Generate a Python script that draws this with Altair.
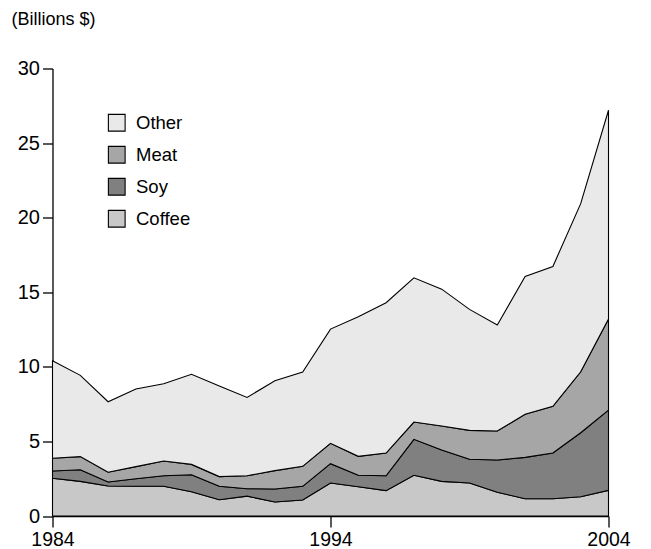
import altair as alt
import pandas as pd

years = list(range(1984, 2005))
coffee = [2.53, 2.32, 2.01, 1.99, 1.99, 1.63, 1.09, 1.33, 0.94, 1.07, 2.21,
          1.96, 1.70, 2.73, 2.32, 2.21, 1.59, 1.16, 1.16, 1.29, 1.72]
soy = [0.49, 0.78, 0.27, 0.51, 0.71, 1.14, 0.90, 0.50, 0.87, 0.92, 1.30,
       0.77, 1.00, 2.41, 2.10, 1.59, 2.16, 2.77, 3.06, 4.29, 5.38]
meat = [0.85, 0.88, 0.65, 0.81, 0.99, 0.69, 0.65, 0.87, 1.23, 1.34, 1.36,
        1.27, 1.52, 1.16, 1.61, 1.94, 1.95, 2.89, 3.13, 4.09, 6.10]
other = [6.54, 5.45, 4.73, 5.20, 5.18, 6.04, 6.07, 5.25, 6.03, 6.32, 7.66,
         9.36, 10.08, 9.67, 9.18, 8.11, 7.10, 9.24, 9.38, 11.27, 14.00]

legend_names = ["Other", "Meat", "Soy", "Coffee"]
legend_colors = ["#e9e9e9", "#a6a6a6", "#808080", "#c8c8c8"]
stack_rank = {"Coffee": 0, "Soy": 1, "Meat": 2, "Other": 3}
x_ticks = [1984, 1994, 2004]
y_ticks = [0, 5, 10, 15, 20, 25, 30]

rows = []
for name, vals in [("Coffee", coffee), ("Soy", soy), ("Meat", meat), ("Other", other)]:
    for yr, v in zip(years, vals):
        rows.append({"year": yr, "series": name, "value": v, "rank": stack_rank[name]})
df = pd.DataFrame(rows)

FONT = "Liberation Sans"

chart = alt.Chart(df).mark_area(
    stroke="black", strokeWidth=1.1, opacity=1, fillOpacity=1
).encode(
    x=alt.X("year:Q",
            scale=alt.Scale(domain=[1984, 2004], nice=False, zero=False),
            axis=alt.Axis(values=x_ticks, format="d", title=None, grid=False,
                          domainColor="black", domainWidth=1.3, tickColor="black",
                          tickWidth=1.3, tickSize=11, labelPadding=3,
                          labelFont=FONT, labelFontSize=19.5, labelColor="black",
                          labelFlush=False)),
    y=alt.Y("value:Q", stack="zero",
            scale=alt.Scale(domain=[0, 30], nice=False),
            axis=alt.Axis(values=y_ticks, title="(Billions $)", grid=False,
                          titleAngle=0, titleAlign="left", titleBaseline="alphabetic",
                          titleX=-41.5, titleY=-44.5, titleFont=FONT,
                          titleFontSize=18, titleFontWeight="normal", titleColor="black",
                          domainColor="black", domainWidth=1.3, tickColor="black",
                          tickWidth=1.3, tickSize=10, labelPadding=3,
                          labelFont=FONT, labelFontSize=20, labelColor="black")),
    color=alt.Color("series:N",
                    scale=alt.Scale(domain=legend_names, range=legend_colors),
                    legend=alt.Legend(title=None, orient="none", legendX=55, legendY=45,
                                      symbolType="square", symbolSize=280,
                                      symbolStrokeColor="black", symbolStrokeWidth=1.1,
                                      symbolOpacity=1,
                                      labelFont=FONT, labelFontSize=18.5, labelColor="black",
                                      labelOffset=10, rowPadding=10, padding=0)),
    order=alt.Order("rank:Q"),
).properties(
    width=556,
    height=447.5,
    autosize=alt.AutoSizeParams(type="none"),
    padding={"left": 44.5, "top": 60.5, "right": 30, "bottom": 40},
).configure_view(stroke=None)

chart.save("out.html", embed_options={"renderer": "svg", "actions": False})
